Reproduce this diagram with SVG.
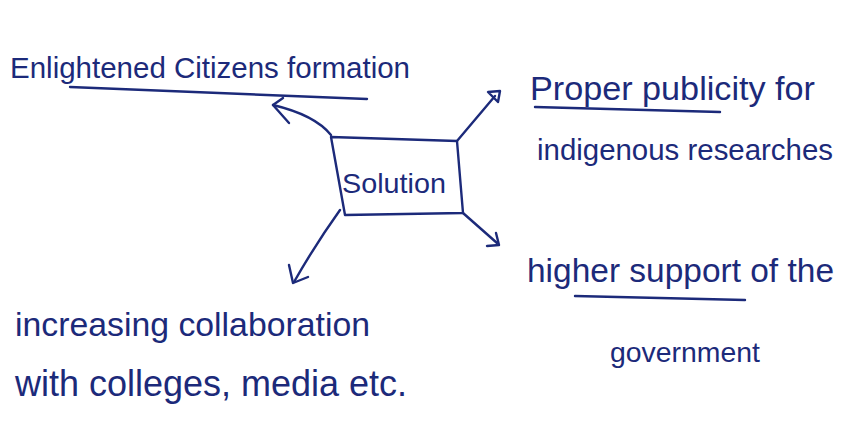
<svg xmlns="http://www.w3.org/2000/svg" width="841" height="433" viewBox="0 0 841 433">
<style>
.t{font-family:"Liberation Sans","DejaVu Sans",sans-serif;fill:#1c2a7a;}
.l{fill:none;stroke:#1c2a7a;stroke-width:2.4;stroke-linecap:round;stroke-linejoin:round;}
</style>
<rect width="841" height="433" fill="#ffffff"/>
<g id="solution">
<path class="l" d="M331,137 L457,141 L463,213 L345,215 Z"/>
<text class="t" x="342" y="193" font-size="28" textLength="104" lengthAdjust="spacingAndGlyphs">Solution</text>
</g>
<g id="enlightened">
<text class="t" x="10" y="78" font-size="29.5" textLength="400" lengthAdjust="spacingAndGlyphs">Enlightened Citizens formation</text>
<path class="l" d="M70,87 L367,99"/>
</g>
<g id="publicity">
<text class="t" x="530" y="100" font-size="34" textLength="285" lengthAdjust="spacingAndGlyphs">Proper publicity for</text>
<path class="l" d="M535,107 L720,112"/>
<text class="t" x="537" y="160" font-size="29.5" textLength="296" lengthAdjust="spacingAndGlyphs">indigenous researches</text>
</g>
<g id="support">
<text class="t" x="527" y="282" font-size="33.5" textLength="307" lengthAdjust="spacingAndGlyphs">higher support of the</text>
<path class="l" d="M575,296 L745,300"/>
<text class="t" x="610" y="362" font-size="28.5" textLength="150" lengthAdjust="spacingAndGlyphs">government</text>
</g>
<g id="collaboration">
<text class="t" x="15" y="336" font-size="33.5" textLength="355" lengthAdjust="spacingAndGlyphs">increasing collaboration</text>
<text class="t" x="15" y="396" font-size="36" textLength="392" lengthAdjust="spacingAndGlyphs">with colleges, media etc.</text>
</g>
<g id="connectors">
<path class="l" d="M331,135 Q315,115 273,105"/>
<path class="l" d="M283,98 L273,105 L289,123"/>
<path class="l" d="M457,141 L495,96"/>
<path class="l" d="M488,92 L500,91 L498,102 Z" fill="#1c2a7a"/>
<path class="l" d="M463,213 L497,243"/>
<path class="l" d="M487,246 L499,245 L496,233"/>
<path class="l" d="M340,210 Q315,245 294,282"/>
<path class="l" d="M289,265 L293,283 L308,277"/>
</g>
</svg>
